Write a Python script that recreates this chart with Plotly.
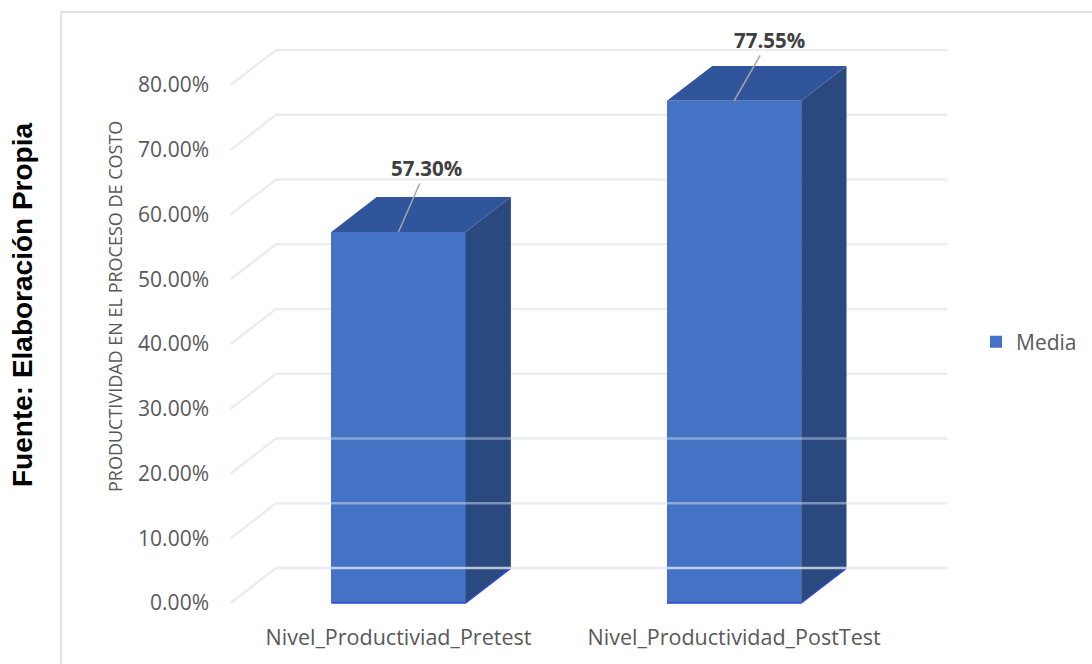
import plotly.graph_objects as go

# ---- data ----
categories = ["Nivel_Productiviad_Pretest", "Nivel_Productividad_PostTest"]
values = [0.5730, 0.7755]
series_name = "Media"
y_ticks = [0.0, 0.1, 0.2, 0.3, 0.4, 0.5, 0.6, 0.7, 0.8]
y_title = "PRODUCTIVIDAD EN EL PROCESO DE COSTO"
source_text = "Fuente: Elaboración Propia"

# ---- style ----
FRONT = "#4472C4"
TOP = "#30559A"
SIDE = "#2A4A7F"
GRID = "#EDEDED"
TXT = "#595959"
FONT = "Open Sans"

BAR_W = 0.40      # bar width in category units
DX = 0.135        # depth offset (x, category units)
DY = 0.054        # depth offset (y, value units)

W, H = 1092, 664
ML, MR, MT, MB = 224, 136, 33, 42
px_per_x = 335.6
px_per_y = 647.5
x0 = -0.502 - (230 - ML) / px_per_x
x1 = x0 + (W - ML - MR) / px_per_x
y1 = (603 - MT) / px_per_y
y0 = -((H - MB) - 603) / px_per_y

fig = go.Figure()

# front faces (real bars)
xs = list(range(len(categories)))
fig.add_trace(go.Bar(
    x=xs, y=values, width=BAR_W, name=series_name,
    marker=dict(color=FRONT, line=dict(width=0)),
    hoverinfo="skip", showlegend=True,
))

# side and top faces derived from the values
for i, v in zip(xs, values):
    l, r = i - BAR_W / 2, i + BAR_W / 2
    fig.add_trace(go.Scatter(
        x=[r, r + DX, r + DX, r, r], y=[0, DY, v + DY, v, 0],
        fill="toself", fillcolor=SIDE, mode="lines",
        line=dict(width=0, color=SIDE), hoverinfo="skip", showlegend=False))
    fig.add_trace(go.Scatter(
        x=[l, r, r + DX, l + DX, l], y=[v, v, v + DY, v + DY, v],
        fill="toself", fillcolor=TOP, mode="lines",
        line=dict(width=0, color=TOP), hoverinfo="skip", showlegend=False))
    # bright bottom edge of the front face
    fig.add_trace(go.Scatter(
        x=[l, r, r + DX], y=[0, 0, DY], mode="lines",
        line=dict(width=1.5, color="#3346D8"), hoverinfo="skip", showlegend=False))

# 3D gridlines (side wall + back wall), below the bars
shapes = []
xl, xr = xs[0] - 0.5, xs[-1] + 0.5
for t in y_ticks:
    shapes.append(dict(
        type="path", xref="x", yref="y", layer="below",
        path=f"M {xl},{t} L {xl + DX},{t + DY} L {xr + DX},{t + DY}",
        line=dict(color=GRID, width=2.5)))
# faint gridlines showing through the lower part of the bars
for t, a in zip(y_ticks[:3], [0.75, 0.45, 0.4]):
    shapes.append(dict(
        type="line", xref="x", yref="y", layer="above",
        x0=xl + DX, x1=xr + DX, y0=t + DY, y1=t + DY,
        line=dict(color=f"rgba(235,238,245,{a})", width=2.5)))

# chart border (outer frame)
pw, ph = W - ML - MR, H - MT - MB
bx = (61 - ML) / pw
by = (H - MB - 12) / ph
shapes.append(dict(type="line", xref="paper", yref="paper", layer="above",
                   x0=bx, x1=bx, y0=by, y1=-0.2, line=dict(color="#D9D9D9", width=1.5)))
shapes.append(dict(type="line", xref="paper", yref="paper", layer="above",
                   x0=bx, x1=1.4, y0=by, y1=by, line=dict(color="#D9D9D9", width=1.5)))

annotations = []
label_offsets = [(28, -64), (35, -61)]
for i, v, (ax, ay) in zip(xs, values, label_offsets):
    annotations.append(dict(
        x=i, y=v, xref="x", yref="y", text=f"{v * 100:.2f}%",
        showarrow=True, arrowhead=0, arrowwidth=1.5, arrowcolor="#A6A6A6",
        ax=ax, ay=ay, standoff=0,
        font=dict(family=FONT, size=20.5, color="#404040", weight="bold")))

annotations.append(dict(
    x=(115 - ML) / pw, y=(H - MB - 307) / ph, xref="paper", yref="paper",
    text=y_title, textangle=-90, showarrow=False,
    xanchor="center", yanchor="middle",
    font=dict(family=FONT, size=18, color=TXT)))
annotations.append(dict(
    x=(22 - ML) / pw, y=(H - MB - 305) / ph, xref="paper", yref="paper",
    text=source_text, textangle=-90, showarrow=False,
    xanchor="center", yanchor="middle",
    font=dict(family="Liberation Sans", size=28, color="#000000", weight="bold")))

fig.update_layout(
    width=W, height=H,
    margin=dict(l=ML, r=MR, t=MT, b=MB, pad=0, autoexpand=False),
    paper_bgcolor="white", plot_bgcolor="white",
    shapes=shapes, annotations=annotations,
    showlegend=True,
    legend=dict(x=(976 - ML) / pw, y=(H - MB - 342) / ph, xanchor="left", yanchor="middle",
                font=dict(family=FONT, size=21, color=TXT), bgcolor="rgba(0,0,0,0)"),
    xaxis=dict(range=[x0, x1], tickvals=xs, ticktext=categories,
               showgrid=False, zeroline=False, showline=False, ticks="",
               tickfont=dict(family=FONT, size=21.5, color=TXT)),
    yaxis=dict(range=[y0, y1], tickvals=y_ticks, tickformat=".2%",
               showgrid=False, zeroline=False, showline=False, ticks="",
               ticklabelstandoff=14,
               tickfont=dict(family=FONT, size=21, color=TXT)),
    bargap=0,
)

fig.write_html("out.html")
